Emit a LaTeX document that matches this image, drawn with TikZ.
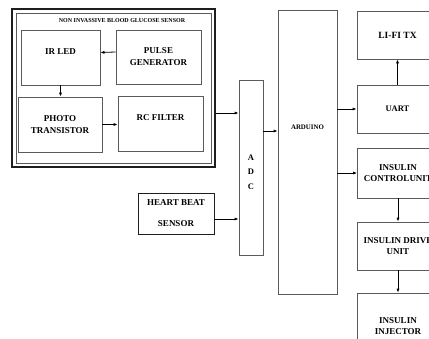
\documentclass[tikz,border=0pt]{standalone}
\usepackage{fontspec}
\setmainfont{Liberation Serif}
\usepackage{xcolor}
\usepackage{tikz}
\usetikzlibrary{arrows.meta,positioning}
\definecolor{boxgrey}{HTML}{5A5A5A}
\definecolor{framegrey}{HTML}{1E1E1E}

\begin{document}
\begin{tikzpicture}[x=1pt, y=-1pt,
        blk/.style={draw=boxgrey, line width=0.8pt, inner sep=0pt, align=center,
                    font=\bfseries\fontsize{9}{12}\selectfont},
        rblk/.style={blk, minimum width=81pt, font=\bfseries\fontsize{9}{11.5}\selectfont},
        arr/.style={-{Latex[length=4pt,width=3.2pt]}, line width=0.8pt, black}]
    \useasboundingbox (0,0) rectangle (429,338);
    \clip (0,0) rectangle (429,338);

    % sensor frame
    \node[draw=framegrey, line width=2.5pt, minimum width=203pt, minimum height=158pt] (frame) at (113.5,88) {};
    \node[draw=boxgrey, line width=0.8pt, minimum width=195pt, minimum height=150pt] (frameinner) at (113.5,88) {};
    \node[font=\bfseries\fontsize{6}{7}\selectfont] (title) at (122,21) {NON INVASSIVE BLOOD GLUCOSE SENSOR};

    \node[blk, minimum width=79pt, minimum height=55pt] (irled) at (60.5,57.5) {IR LED\\\mbox{}};
    \node[blk, minimum width=85pt, minimum height=54pt] (pulse) at (158.5,57) {PULSE\\GENERATOR};
    \node[blk, minimum width=84pt, minimum height=55pt] (photo) at (60,124.5) {PHOTO\\TRANSISTOR};
    \node[blk, minimum width=85pt, minimum height=55pt] (rcf) at (160.5,123.5) {RC FILTER\\\mbox{}};

    \draw[arr] ([yshift=5pt]pulse.west) -- ([yshift=5pt]irled.east);
    \draw[arr] (irled.south) -- (irled.south |- photo.north);
    \draw[arr] (photo.east) -- (photo.east -| rcf.west);

    % adc + heart beat
    \node[blk, minimum width=24pt, minimum height=175pt, font=\bfseries\fontsize{8.5}{14.5}\selectfont] (adc) at (251,167.5) {\mbox{}\\A\\D\\C};
    \node[blk, draw=framegrey, minimum width=76pt, minimum height=41pt] (heart) at (176,213.5) {HEART BEAT\\[9pt]SENSOR};

    \draw[arr] ([yshift=-25pt]frame.east) -- ([yshift=-25pt]frame.east -| adc.west);
    \draw[arr] ([yshift=-5.5pt]heart.east) -- ([yshift=-5.5pt]heart.east -| adc.west);

    % arduino
    \node[blk, minimum width=59pt, minimum height=284pt] (arduino) at (307.5,152) {};
    \node[font=\bfseries\fontsize{6.9}{8}\selectfont] (arduinotxt) at (307.5,127) {ARDUINO};
    \draw[arr] ([yshift=36.5pt]adc.east) -- ([yshift=36.5pt]adc.east -| arduino.west);

    % outputs
    \node[rblk, minimum height=48pt, font=\bfseries\fontsize{9.5}{11.5}\selectfont] (lifi) at (397.5,35) {LI-FI TX};
    \node[rblk, minimum height=48pt, font=\bfseries\fontsize{8.5}{11.5}\selectfont] (uart) at (397.5,109) {UART};
    \node[rblk, minimum height=50pt] (ctrl) at (398,173) {INSULIN\\CONTROLUNIT};
    \node[rblk, minimum height=48pt] (drive) at (398,246) {INSULIN DRIVE\\UNIT};
    \node[rblk, minimum height=66pt] (injector) at (398,326) {INSULIN\\INJECTOR};

    \draw[arr] (arduino.east |- uart) -- (uart.west);
    \draw[arr] (arduino.east |- ctrl) -- (ctrl.west);
    \draw[arr] (uart.north) -- (uart.north |- lifi.south);
    \draw[arr] (ctrl.south) -- (ctrl.south |- drive.north);
    \draw[arr] (drive.south) -- (drive.south |- injector.north);
\end{tikzpicture}
\end{document}
